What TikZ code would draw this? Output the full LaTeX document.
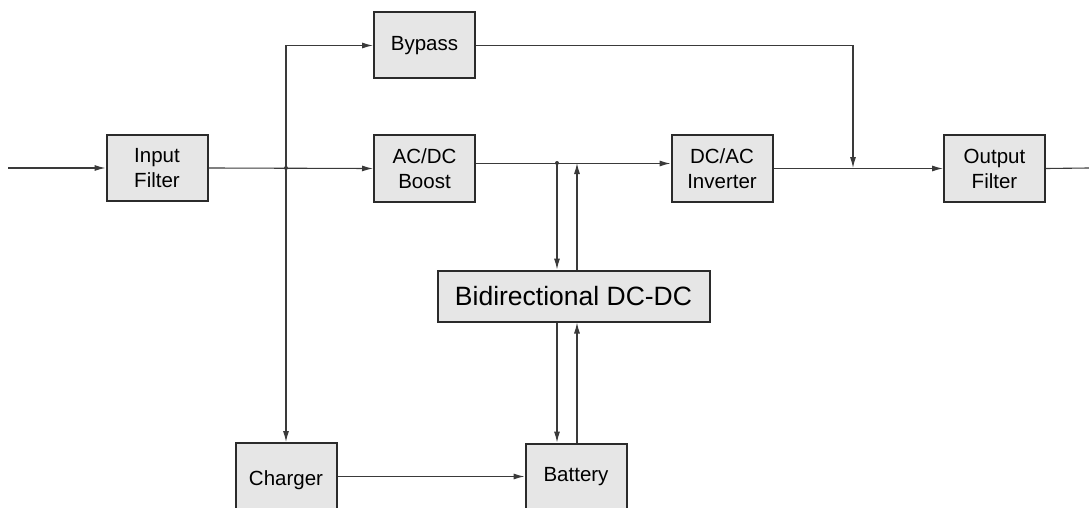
\documentclass[tikz,border=0pt]{standalone}
\usepackage{fontspec}
\setmainfont{Liberation Sans}
\usetikzlibrary{arrows.meta}
\definecolor{boxfill}{HTML}{E6E6E6}
\definecolor{boxline}{HTML}{2B2B2B}
\definecolor{wirecol}{HTML}{3A3A3A}
\begin{document}
\begin{tikzpicture}[x=1pt,y=-1pt,
 blk/.style={draw=boxline,line width=2pt,fill=boxfill,minimum width=101pt,minimum height=66pt,inner sep=0pt,align=center,font=\fontsize{20.5}{25}\selectfont},
 wire/.style={draw=wirecol,line width=1.1pt},
 arr/.style={wire,-{Latex[length=11pt,width=6pt]}},
 jdot/.style={circle,fill=wirecol,inner sep=0pt,minimum size=4pt}]
\useasboundingbox (0,0) rectangle (1089,508);
\clip (0,0) rectangle (1089,508);
\node[blk] (inf) at (157,168) {Input\\Filter};
\node[blk] (byp) at (424.5,45.5) {Bypass};
\node[blk] (boost) at (424.5,168.5) {AC/DC\\Boost};
\node[blk] (inv) at (722,168.5) {DC/AC\\Inverter};
\node[blk] (outf) at (994.5,168.5) {Output\\Filter};
\node[blk,minimum width=272pt,minimum height=51pt,font=\fontsize{26.5}{30}\selectfont] (bidi) at (573.5,296) {Bidirectional DC-DC};
\node[blk,minimum height=74pt] (chg) at (286,480) {Charger};
\node[blk] (bat) at (576,476.5) {Battery};
\coordinate (in) at (8,168);
\coordinate (out) at (1089,168);
\node[jdot] (j1) at (286,168) {};
\node[jdot] (j2) at (557,163) {};
\coordinate (ux) at (577,163);
\coordinate (bm) at (853,168);
\draw[arr] (in) -- (inf.west);
\draw[arr] (inf.east) -- (boost.west);
\draw[arr] (j1.center) |- (byp.west);
\draw[arr] (j1.center) -- (chg.north);
\draw[arr] (byp.east) -| (bm);
\draw[arr] ([yshift=5pt]boost.east) -- ([yshift=5pt]inv.west);
\draw[arr] (inv.east) -- (outf.west);
\draw[wire] (outf.east) -- (out);
\draw[arr] (j2.center) -- (j2.center |- bidi.north);
\draw[arr] (ux |- bidi.north) -- (ux);
\draw[arr] (j2.center |- bidi.south) -- (j2.center |- bat.north);
\draw[arr] (ux |- bat.north) -- (ux |- bidi.south);
\draw[arr] (chg.east |- bat.west) -- (bat.west);
\end{tikzpicture}
\end{document}
